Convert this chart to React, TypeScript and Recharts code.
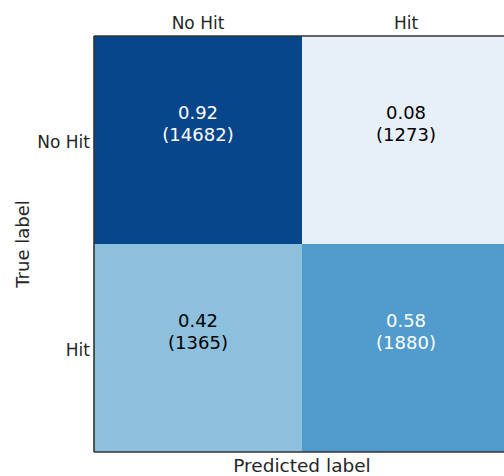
import React from "react";
import { BarChart, Bar, XAxis, YAxis, Cell, LabelList } from "recharts";

// Predicted-label columns (x axis, shown at top)
const predictedLabels = ["No Hit", "Hit"];
// True-label rows, top to bottom
const trueLabels = ["No Hit", "Hit"];
// Normalised rates [trueRow][predCol]
const rateNoHitRow = [0.92, 0.08];
const rateHitRow = [0.42, 0.58];
// Raw counts [trueRow][predCol]
const countNoHitRow = [14682, 1273];
const countHitRow = [1365, 1880];
// Cell colours (Blues colormap)
const colorNoHitRow = ["#08468b", "#e7eff9"];
const colorHitRow = ["#8cc0dd", "#519ccc"];
// Each row spans one unit of the y scale
const rowSpan = [1, 1];
const yTicks = [0.5, 1.5];

const data = predictedLabels.map((p) => ({
  pred: p,
  hitRow: rowSpan[1],
  noHitRow: rowSpan[0],
}));

const TEXT = "#262626";
const SPINE = "#333333";
const FONT = "DejaVu Sans, sans-serif";

const makeCellLabel = (rates: number[], counts: number[]) => (props: any) => {
  const { x, y, width, height, index } = props;
  const cx = Number(x) + Number(width) / 2;
  const cy = Number(y) + Number(height) / 2;
  const r = rates[index];
  const fill = r > 0.5 ? "#ffffff" : "#000000";
  return (
    <g>
      <text x={cx} y={cy - 21} textAnchor="middle" fontSize={18} fill={fill} fontFamily={FONT}>
        {r.toFixed(2)}
      </text>
      <text x={cx} y={cy + 0.5} textAnchor="middle" fontSize={18} fill={fill} fontFamily={FONT}>
        {`(${counts[index]})`}
      </text>
    </g>
  );
};

const YTick = (props: any) => {
  const { x, y, payload } = props;
  const label = payload.value > 1 ? trueLabels[0] : trueLabels[1];
  return (
    <text
      x={x}
      y={Number(y) + 8}
      textAnchor="end"
      fontSize={17}
      fill={TEXT}
      fontFamily={FONT}
    >
      {label}
    </text>
  );
};

export default function App() {
  return (
    <div
      style={{
        position: "absolute",
        left: 0,
        top: 0,
        width: 504,
        height: 476,
        overflow: "hidden",
        background: "#ffffff",
        fontFamily: FONT,
      }}
    >
      <BarChart
        width={520}
        height={476}
        data={data}
        margin={{ top: 0, right: 10, bottom: 0, left: 0 }}
        barCategoryGap={0}
        barGap={0}
      >
        <XAxis
          dataKey="pred"
          orientation="top"
          height={36}
          tickLine={false}
          tickSize={5}
          axisLine={{ stroke: SPINE, strokeWidth: 1.6 }}
          tick={{ fontSize: 17, fill: TEXT, fontFamily: FONT }}
          interval={0}
        />
        <XAxis
          xAxisId="bottom"
          dataKey="pred"
          orientation="bottom"
          height={24}
          tickLine={false}
          tick={false}
          axisLine={{ stroke: SPINE, strokeWidth: 1.6 }}
          label={{
            value: "Predicted label",
            position: "insideBottom",
            offset: 4,
            fontSize: 18.5,
            fill: TEXT,
            fontFamily: FONT,
          }}
        />
        <YAxis
          type="number"
          domain={[0, 2]}
          ticks={yTicks}
          width={94}
          tickSize={2}
          tickLine={false}
          axisLine={{ stroke: SPINE, strokeWidth: 1.6 }}
          tick={<YTick />}
          label={{
            content: (p: any) => {
              const vb = p.viewBox || {};
              const lx = (vb.x || 0) + 22;
              const ly = (vb.y || 0) + (vb.height || 0) / 2;
              return (
                <text
                  x={lx}
                  y={ly}
                  transform={`rotate(-90, ${lx}, ${ly})`}
                  textAnchor="middle"
                  dominantBaseline="central"
                  fontSize={18}
                  fill={TEXT}
                  fontFamily={FONT}
                >
                  True label
                </text>
              );
            },
          }}
        />
        <Bar dataKey="hitRow" stackId="m" isAnimationActive={false}>
          {data.map((d, i) => (
            <Cell key={`h${i}`} fill={colorHitRow[i]} />
          ))}
          <LabelList dataKey="hitRow" content={makeCellLabel(rateHitRow, countHitRow)} />
        </Bar>
        <Bar dataKey="noHitRow" stackId="m" isAnimationActive={false}>
          {data.map((d, i) => (
            <Cell key={`n${i}`} fill={colorNoHitRow[i]} />
          ))}
          <LabelList dataKey="noHitRow" content={makeCellLabel(rateNoHitRow, countNoHitRow)} />
        </Bar>
      </BarChart>
    </div>
  );
}
